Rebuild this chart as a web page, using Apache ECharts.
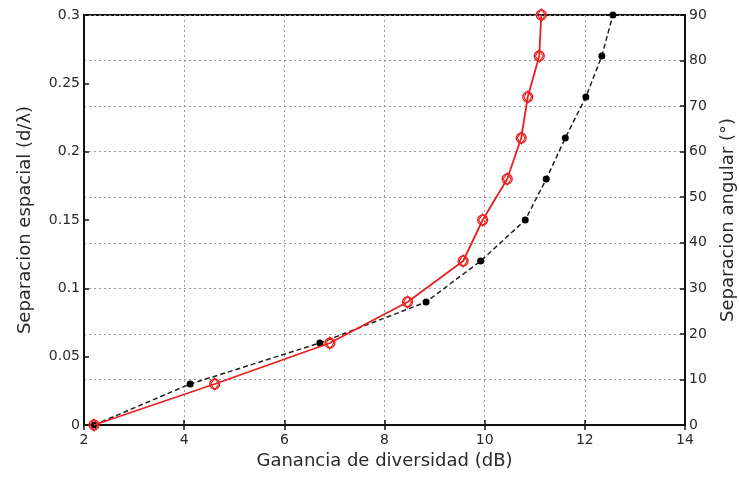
<!DOCTYPE html>
<html>
<head>
<meta charset="utf-8">
<script src="https://cdn.jsdelivr.net/npm/echarts@6/dist/echarts.min.js"></script>
<style>html,body{margin:0;padding:0;background:#fff;}#c{width:739px;height:477px;}</style>
</head>
<body>
<div id="c"></div>
<script>
// Data
var redGain = [2.20, 4.61, 6.91, 8.46, 9.57, 9.96, 10.45, 10.73, 10.86, 11.09, 11.13];
var redSep = [0, 0.03, 0.06, 0.09, 0.12, 0.15, 0.18, 0.21, 0.24, 0.27, 0.30];
var blackGain = [2.20, 4.12, 6.71, 8.83, 9.92, 10.81, 11.23, 11.61, 12.02, 12.34, 12.56];
var blackAng = [0, 9, 18, 27, 36, 45, 54, 63, 72, 81, 90];
var xTicks = [2, 4, 6, 8, 10, 12, 14];
var leftTicks = [0, 0.05, 0.1, 0.15, 0.2, 0.25, 0.3];
var rightTicks = [0, 10, 20, 30, 40, 50, 60, 70, 80, 90];

function zip(a, b) { return a.map(function (v, i) { return [v, b[i]]; }); }

var font = 'DejaVu Sans, Verdana, sans-serif';
var txt = '#2a2a2a';
var chart = echarts.init(document.getElementById('c'));
chart.setOption({
  animation: false,
  grid: { left: 84, right: 54, top: 15, bottom: 52, show: true, borderColor: '#111', borderWidth: 2,
          containLabel: false, outerBoundsMode: 'none' },
  xAxis: [{
    type: 'value', min: xTicks[0], max: xTicks[xTicks.length - 1], interval: 2,
    position: 'bottom',
    name: 'Ganancia de diversidad (dB)', nameLocation: 'middle', nameGap: 25,
    nameTextStyle: { fontFamily: font, fontSize: 18, color: txt },
    axisLine: { lineStyle: { color: '#111', width: 2 } },
    axisTick: { inside: true, length: 5, lineStyle: { color: '#111', width: 1.5 } },
    axisLabel: { fontFamily: font, fontSize: 14, color: txt, margin: 8 },
    splitLine: { show: true, lineStyle: { color: '#999', type: [2, 3], width: 1 } }
  }, {
    type: 'value', min: xTicks[0], max: xTicks[xTicks.length - 1], interval: 2,
    position: 'top',
    axisLine: { lineStyle: { color: '#111', width: 2 } },
    axisTick: { inside: true, length: 5, lineStyle: { color: '#111', width: 1.5 } },
    axisLabel: { show: false },
    splitLine: { show: false }
  }],
  yAxis: [{
    type: 'value', min: leftTicks[0], max: leftTicks[leftTicks.length - 1], interval: 0.05,
    position: 'left',
    name: 'Separacion espacial (d/λ)', nameLocation: 'middle', nameGap: 50, nameRotate: 90,
    nameTextStyle: { fontFamily: font, fontSize: 18, color: txt },
    axisLine: { show: true, lineStyle: { color: '#111', width: 2 } },
    axisTick: { show: true, inside: true, length: 5, lineStyle: { color: '#111', width: 1.5 } },
    axisLabel: { fontFamily: font, fontSize: 14, color: txt, margin: 4 },
    splitLine: { show: false }
  }, {
    type: 'value', min: rightTicks[0], max: rightTicks[rightTicks.length - 1], interval: 10,
    position: 'right',
    name: 'Separacion angular (°)', nameLocation: 'middle', nameGap: 34, nameRotate: 90,
    nameTextStyle: { fontFamily: font, fontSize: 18, color: txt },
    axisLine: { show: true, lineStyle: { color: '#111', width: 2 } },
    axisTick: { show: true, inside: true, length: 5, lineStyle: { color: '#111', width: 1.5 } },
    axisLabel: { fontFamily: font, fontSize: 14, color: txt, margin: 4 },
    splitLine: { show: true, lineStyle: { color: '#999', type: [2, 3], width: 1 } }
  }],
  series: [{
    type: 'line', xAxisIndex: 0, yAxisIndex: 1,
    data: zip(blackGain, blackAng),
    symbol: 'circle', symbolSize: 7,
    lineStyle: { color: '#222', width: 1.5, type: [5, 3] },
    itemStyle: { color: '#000' }, z: 3
  }, {
    type: 'line', xAxisIndex: 0, yAxisIndex: 0,
    data: zip(redGain, redSep),
    symbol: 'circle', symbolSize: 10,
    lineStyle: { color: '#e8201f', width: 1.8 },
    itemStyle: { color: 'rgba(255,255,255,0)', borderColor: '#e8201f', borderWidth: 1.3 }, z: 4
  }, {
    type: 'line', xAxisIndex: 0, yAxisIndex: 0,
    data: zip(redGain, redSep),
    symbol: 'diamond', symbolSize: [8, 12],
    lineStyle: { width: 0 },
    itemStyle: { color: 'rgba(255,255,255,0)', borderColor: '#e8201f', borderWidth: 1.2 }, z: 5
  }]
});
</script>
</body>
</html>
